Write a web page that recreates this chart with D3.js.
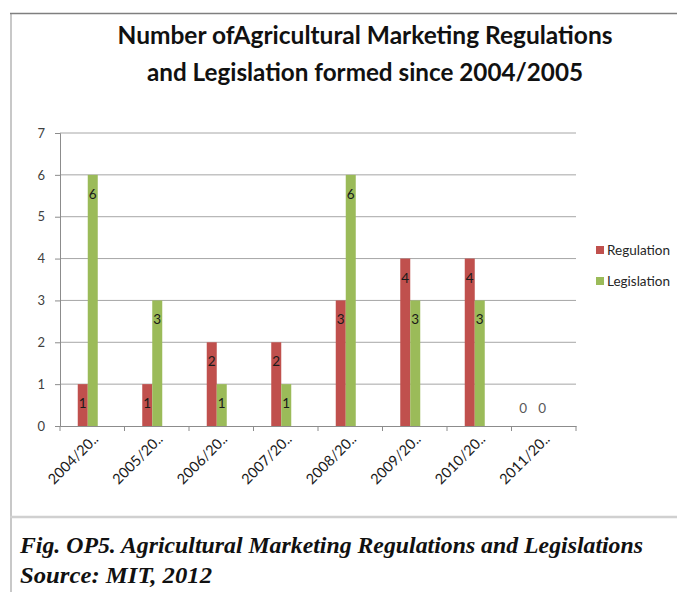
<!DOCTYPE html>
<html>
<head>
<meta charset="utf-8">
<script src="https://cdn.jsdelivr.net/npm/d3@7"></script>
<style>
  html, body { margin: 0; padding: 0; background: #fff; }
  svg { display: block; }
</style>
</head>
<body>
<svg id="chart" width="677" height="592"></svg>
<script>
const categories = ["2004/2005","2005/2006","2006/2007","2007/2008","2008/2009","2009/2010","2010/2011","2011/2012"];
const tickLabels = ["2004/20..","2005/20..","2006/20..","2007/20..","2008/20..","2009/20..","2010/20..","2011/20.."];
const seriesNames = ["Regulation","Legislation"];
const regulation = [1,1,2,2,3,4,4,0];
const legislation = [6,3,1,1,6,3,3,0];
const yTicks = [0,1,2,3,4,5,6,7];
const colors = ["#C0504D","#9BBB59"];
const titleLines = ["Number ofAgricultural Marketing Regulations","and Legislation formed since 2004/2005"];
const captionLines = ["Fig. OP5. Agricultural Marketing Regulations and Legislations","Source: MIT, 2012"];

(function(){
const svg = d3.select("#chart");
const font = "Lato, 'Open Sans', sans-serif";

// chart frame
svg.append("line").attr("x1",11).attr("x2",11).attr("y1",13).attr("y2",592)
  .attr("stroke","#c8c8c8").attr("stroke-width",2);
svg.append("line").attr("x1",10).attr("x2",677).attr("y1",13.5).attr("y2",13.5)
  .attr("stroke","#7f7f7f").attr("stroke-width",1.5);
svg.append("line").attr("x1",10).attr("x2",677).attr("y1",517).attr("y2",517)
  .attr("stroke","#d0d0d0").attr("stroke-width",2.5);

// title
const titleW = [495, 436];
svg.append("g").selectAll("text").data(titleLines).join("text")
  .attr("x",365).attr("y",(d,i)=>44 + i*37)
  .attr("text-anchor","middle")
  .attr("textLength",(d,i)=>titleW[i]).attr("lengthAdjust","spacingAndGlyphs")
  .attr("font-family",font).attr("font-weight","bold").attr("font-size",25)
  .attr("fill","#111").text(d=>d);

const pL = 60, pR = 576, pT = 133, pB = 426;
const x = d3.scaleBand().domain(categories).range([pL,pR]).padding(0);
const y = d3.scaleLinear().domain([0,7]).range([pB,pT]);
const xs = d3.scaleBand().domain(seriesNames).range([-14.5,5.5]).padding(0);

// gridlines
svg.append("g").selectAll("line").data(yTicks.filter(t=>t>0)).join("line")
  .attr("x1",pL).attr("x2",pR).attr("y1",d=>y(d)).attr("y2",d=>y(d))
  .attr("stroke","#a6a6a6").attr("stroke-width",1);

// y axis
const yAxis = svg.append("g").attr("transform",`translate(${pL},0)`)
  .call(d3.axisLeft(y).tickValues(yTicks).tickSize(5).tickPadding(10).tickFormat(d3.format("d")));
yAxis.select(".domain").attr("stroke","#8c8c8c");
yAxis.selectAll(".tick line").attr("stroke","#8c8c8c");
yAxis.selectAll("text").attr("font-family",font).attr("font-size",13).attr("fill","#404040");

// x axis
const xAxis = svg.append("g").attr("transform",`translate(0,${pB})`)
  .call(d3.axisBottom(x).tickSize(0).tickFormat((d,i)=>tickLabels[i]));
xAxis.select(".domain").attr("stroke","#8c8c8c");
xAxis.selectAll(".tick text")
  .attr("font-family",font).attr("font-size",14.5).attr("fill","#1a1a1a")
  .attr("text-anchor","end").attr("dy",0).attr("y",0)
  .attr("transform","translate(7,14) rotate(-45)");
// category boundary ticks
svg.append("g").selectAll("line").data(d3.range(categories.length+1)).join("line")
  .attr("x1",i=>pL + i*x.step()).attr("x2",i=>pL + i*x.step())
  .attr("y1",pB).attr("y2",pB+5).attr("stroke","#8c8c8c");

// bars
const data = categories.map((c,i)=>({cat:c, vals:[regulation[i], legislation[i]]}));
const groups = svg.append("g").selectAll("g").data(data).join("g")
  .attr("transform",d=>`translate(${x(d.cat)+x.bandwidth()/2},0)`);
groups.selectAll("rect").data(d=>d.vals.map((v,j)=>({v, s:seriesNames[j], j}))).join("rect")
  .attr("x",d=>xs(d.s)).attr("width",xs.bandwidth())
  .attr("y",d=>y(d.v)).attr("height",d=>pB - y(d.v))
  .attr("fill",d=>colors[d.j]);
groups.selectAll("text").data(d=>d.vals.map((v,j)=>({v, s:seriesNames[j], j}))).join("text")
  .attr("x",d=> d.v===0 ? xs(d.s)+xs.bandwidth()/2 + (d.j===0 ? -11 : -2) : xs(d.s)+xs.bandwidth()/2)
  .attr("y",d=> d.v===0 ? y(d.v)-13 : y(d.v)+24)
  .attr("text-anchor","middle")
  .attr("font-family",font).attr("font-size",13.5)
  .attr("fill",d=>d.v===0 ? "#595959" : "#1a1a1a")
  .text(d=>d.v);

// legend
const legend = svg.append("g").selectAll("g").data(seriesNames).join("g")
  .attr("transform",(d,i)=>`translate(596,${246 + i*31})`);
legend.append("rect").attr("width",8).attr("height",8).attr("fill",(d,i)=>colors[i]);
legend.append("text").attr("x",11).attr("y",9)
  .attr("font-family",font).attr("font-size",13.5).attr("fill","#262626").text(d=>d);

// caption
const capW = [623, 192];
svg.append("g").selectAll("text").data(captionLines).join("text")
  .attr("x",20).attr("y",(d,i)=>553 + i*30)
  .attr("textLength",(d,i)=>capW[i]).attr("lengthAdjust","spacingAndGlyphs")
  .attr("font-family","'Liberation Serif', 'Times New Roman', serif")
  .attr("font-weight","bold").attr("font-style","italic").attr("font-size",23)
  .attr("fill","#111").text(d=>d);
})();
</script>
</body>
</html>
